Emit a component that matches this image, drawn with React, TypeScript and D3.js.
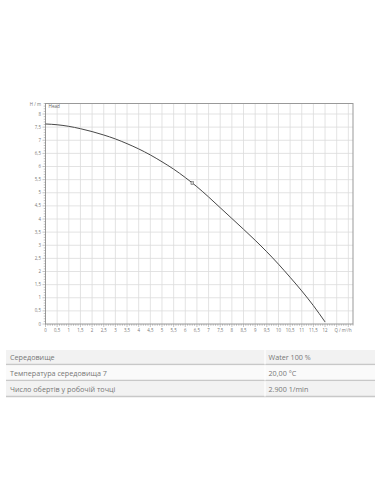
import React from "react";
import * as d3 from "d3";

const flowQ = [0, 0.5, 1, 1.5, 2, 2.5, 3, 3.5, 4, 4.5, 5, 5.5, 6, 6.5, 7, 7.5, 8, 8.5, 9, 9.5, 10, 10.5, 11, 11.5, 12];
const headH = [7.62, 7.59, 7.53, 7.44, 7.33, 7.2, 7.05, 6.87, 6.67, 6.44, 6.18, 5.9, 5.58, 5.23, 4.84, 4.43, 4.02, 3.61, 3.19, 2.75, 2.28, 1.78, 1.26, 0.7, 0.08];
const opPoint = { q: 6.3, h: 5.37 };
const xTicks = d3.range(0, 12.01, 0.5);
const yTicks = d3.range(0, 8.01, 0.5);
const rowLabels = ["Середовище", "Температура середовища 7", "Число обертів у робочій точці"];
const rowValues = ["Water 100 %", "20,00 °C", "2.900 1/min"];

const fmt = (v: number) => (Number.isInteger(v) ? String(v) : String(v).replace(".", ","));

export default function App() {
  const W = 381, H = 492;
  const x = d3.scaleLinear().domain([0, 13.2]).range([45.5, 353]);
  const y = d3.scaleLinear().domain([0, 8.4]).range([324, 103.5]);
  const line = d3.line<number>().x((_, i) => x(flowQ[i])).y((d) => y(d)).curve(d3.curveMonotoneX);
  const gridX = d3.range(0.5, 13.01, 0.5);
  const gridY = d3.range(0.5, 8.01, 0.5);
  const minorX = d3.range(0, 13.21, 0.1);
  const minorY = d3.range(0, 8.41, 0.1);
  const font = "'Open Sans', 'DejaVu Sans', sans-serif";
  const rowTop = [350, 365.5, 381.5];
  const rowH = [14.5, 15, 15];
  const rowFill = ["#f2f2f2", "#fafafa", "#f2f2f2"];
  return (
    <svg width={W} height={H} style={{ position: "absolute", left: 0, top: 0, background: "#fff" }} fontFamily={font}>
      <rect x={0} y={0} width={W} height={H} fill="#fff" />
      {gridX.map((v) => (
        <line key={"gx" + v} x1={x(v)} x2={x(v)} y1={y(8.4)} y2={y(0)} stroke="#dcdcdc" strokeWidth={0.8} />
      ))}
      {gridY.map((v) => (
        <line key={"gy" + v} x1={x(0)} x2={x(13.2)} y1={y(v)} y2={y(v)} stroke="#dcdcdc" strokeWidth={0.8} />
      ))}
      <rect x={x(0)} y={y(8.4)} width={x(13.2) - x(0)} height={y(0) - y(8.4)} fill="none" stroke="#999" strokeWidth={1} />
      {minorX.map((v, i) => (
        <line key={"mx" + i} x1={x(v)} x2={x(v)} y1={y(0)} y2={y(0) + (i % 5 === 0 ? 3 : 1.8)} stroke="#888" strokeWidth={0.5} />
      ))}
      {minorY.map((v, i) => (
        <line key={"my" + i} x1={x(0)} x2={x(0) - (i % 5 === 0 ? 3 : 1.8)} y1={y(v)} y2={y(v)} stroke="#888" strokeWidth={0.5} />
      ))}
      {xTicks.map((v) => (
        <text key={"xt" + v} x={x(v)} y={332} fontSize={4.4} fill="#777" textAnchor="middle">{fmt(v)}</text>
      ))}
      <text x={343} y={332} fontSize={4.4} fill="#777" textAnchor="middle">Q / m³/h</text>
      {yTicks.map((v) => (
        <text key={"yt" + v} x={41} y={y(v) + 1.6} fontSize={4.4} fill="#777" textAnchor="end">{fmt(v)}</text>
      ))}
      <text x={41} y={106} fontSize={4.4} fill="#777" textAnchor="end">H / m</text>
      <text x={48.5} y={108} fontSize={4.6} fill="#666">Head</text>
      <path d={line(headH) || ""} fill="none" stroke="#484848" strokeWidth={1} />
      <rect x={x(opPoint.q) - 1.3} y={y(opPoint.h) - 1.3} width={2.6} height={2.6} fill="#ccc" stroke="#555" strokeWidth={0.5} />
      {rowLabels.map((lab, i) => (
        <g key={"r" + i}>
          <rect x={6} y={rowTop[i]} width={369} height={rowH[i]} fill={rowFill[i]} />
          <line x1={6} x2={375} y1={rowTop[i] + rowH[i]} y2={rowTop[i] + rowH[i]} stroke="#c8c8c8" strokeWidth={1.4} />
          <line x1={265} x2={265} y1={rowTop[i]} y2={rowTop[i] + rowH[i]} stroke="#ffffff" strokeWidth={1.2} />
          <text x={10} y={rowTop[i] + rowH[i] / 2 + 2.6} fontSize={7.2} fill="#777">{lab}</text>
          <text x={268.5} y={rowTop[i] + rowH[i] / 2 + 2.6} fontSize={7.2} fill="#777">{rowValues[i]}</text>
        </g>
      ))}
    </svg>
  );
}
